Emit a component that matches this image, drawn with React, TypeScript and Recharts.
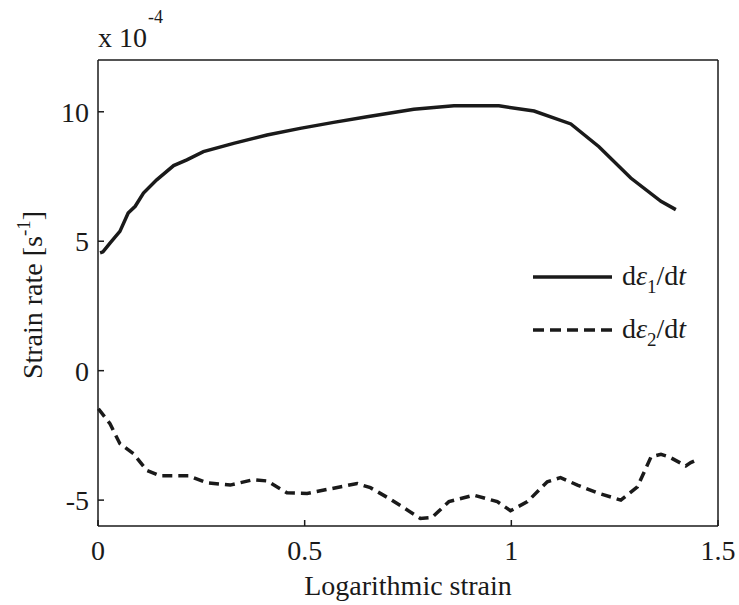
import React from "react";
import { LineChart, Line, XAxis, YAxis } from "recharts";

// strain axis (logarithmic strain) and strain rates in units of 1e-4 s^-1
const strain1 = [0.005, 0.012, 0.029, 0.053, 0.073, 0.09, 0.11, 0.142, 0.183, 0.215, 0.255, 0.328, 0.409, 0.489, 0.57, 0.651, 0.764, 0.861, 0.97, 1.055, 1.144, 1.212, 1.289, 1.362, 1.398];
const rate1 = [4.55, 4.59, 4.93, 5.38, 6.09, 6.35, 6.86, 7.37, 7.92, 8.14, 8.46, 8.78, 9.1, 9.36, 9.59, 9.81, 10.1, 10.23, 10.23, 10.03, 9.53, 8.65, 7.44, 6.54, 6.22];

const strain2 = [0.001, 0.029, 0.053, 0.086, 0.118, 0.15, 0.219, 0.263, 0.32, 0.376, 0.409, 0.457, 0.506, 0.554, 0.627, 0.659, 0.708, 0.78, 0.808, 0.849, 0.909, 0.966, 0.998, 1.039, 1.087, 1.119, 1.16, 1.208, 1.265, 1.305, 1.338, 1.362, 1.382, 1.422, 1.434, 1.455];
const rate2 = [-1.47, -2.05, -2.82, -3.21, -3.85, -4.06, -4.06, -4.33, -4.42, -4.21, -4.26, -4.72, -4.74, -4.59, -4.36, -4.52, -4.97, -5.71, -5.67, -5.06, -4.81, -5.06, -5.41, -5.06, -4.29, -4.13, -4.42, -4.72, -5.0, -4.49, -3.33, -3.23, -3.33, -3.68, -3.55, -3.4];

const xTicks = [0, 0.5, 1, 1.5];
const yTicks = [-5, 0, 5, 10];

const series1 = strain1.map((x, i) => ({ x, y: rate1[i] }));
const series2 = strain2.map((x, i) => ({ x, y: rate2[i] }));

const FONT = "'Liberation Serif', 'Times New Roman', serif";
const INK = "#1a1a1a";
const tickStyle = { fontSize: 28, fill: INK, fontFamily: FONT };

// legend drawn by hand so it doesn't eat into the plot area
const LegendBox = ({ x, y }: { x: number; y: number }) => (
  <g transform={`translate(${x}, ${y})`}>
    <line x1={0} y1={15} x2={79} y2={15} stroke={INK} strokeWidth={3.5} />
    <text x={89} y={23} fontSize={28} fontFamily={FONT} fill={INK}>
      d<tspan fontStyle="italic">ε</tspan>
      <tspan dy={8} fontSize={19}>1</tspan>
      <tspan dy={-8}>/d</tspan>
      <tspan fontStyle="italic">t</tspan>
    </text>
    <line x1={0} y1={68} x2={79} y2={68} stroke={INK} strokeWidth={3.5} strokeDasharray="11 6" />
    <text x={89} y={76} fontSize={28} fontFamily={FONT} fill={INK}>
      d<tspan fontStyle="italic">ε</tspan>
      <tspan dy={8} fontSize={19}>2</tspan>
      <tspan dy={-8}>/d</tspan>
      <tspan fontStyle="italic">t</tspan>
    </text>
  </g>
);

export default function App() {
  return (
    <div style={{ position: "absolute", left: 0, top: 0, width: 739, height: 605, background: "#fff" }}>
      <LineChart width={739} height={605} margin={{ top: 50, right: 11, bottom: 4, left: 38 }}>
        <XAxis
          dataKey="x"
          type="number"
          domain={[0, 1.5]}
          ticks={xTicks}
          allowDuplicatedCategory={false}
          height={75}
          stroke={INK}
          strokeWidth={1.5}
          tickSize={-6}
          tickMargin={20}
          tick={tickStyle}
          tickFormatter={(v: number) => String(v)}
          label={{ value: "Logarithmic strain", position: "insideBottom", offset: 6, style: tickStyle }}
        />
        <XAxis
          xAxisId="top"
          orientation="top"
          dataKey="x"
          type="number"
          domain={[0, 1.5]}
          ticks={xTicks}
          height={10}
          stroke={INK}
          strokeWidth={1.5}
          tickSize={-6}
          tick={false}
        />
        <YAxis
          type="number"
          domain={[-6, 12]}
          ticks={yTicks}
          width={60}
          stroke={INK}
          strokeWidth={1.5}
          tickSize={-6}
          tickMargin={15}
          tick={tickStyle}
        />
        <YAxis
          yAxisId="right"
          orientation="right"
          type="number"
          domain={[-6, 12]}
          ticks={yTicks}
          width={10}
          stroke={INK}
          strokeWidth={1.5}
          tickSize={-6}
          tick={false}
        />
        <Line
          data={series1}
          dataKey="y"
          type="linear"
          stroke={INK}
          strokeWidth={3.5}
          dot={false}
          isAnimationActive={false}
        />
        <Line
          data={series2}
          dataKey="y"
          type="linear"
          stroke={INK}
          strokeWidth={3.5}
          strokeDasharray="10 6"
          dot={false}
          isAnimationActive={false}
        />
        <LegendBox x={533} y={262} />
        <text x={98} y={47} fontSize={28} fontFamily={FONT} fill={INK}>
          x 10
        </text>
        <text x={148} y={23} fontSize={18} fontFamily={FONT} fill={INK}>
          -4
        </text>
        <text
          x={42}
          y={295}
          transform="rotate(-90, 42, 295)"
          textAnchor="middle"
          fontSize={28}
          fontFamily={FONT}
          fill={INK}
        >
          Strain rate [s<tspan dy={-12} fontSize={19}>-1</tspan>
          <tspan dy={12}>]</tspan>
        </text>
      </LineChart>
    </div>
  );
}
